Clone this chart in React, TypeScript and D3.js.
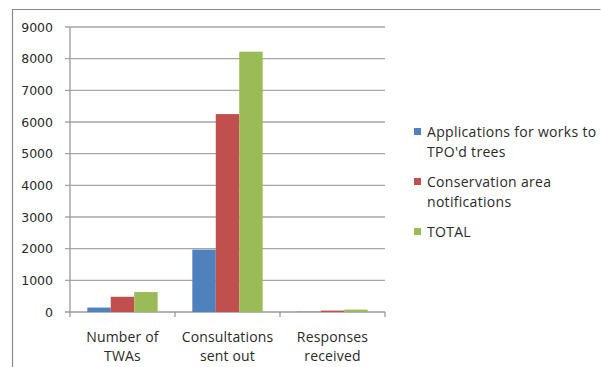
import React from "react";
import * as d3 from "d3";

const categories = [["Number of", "TWAs"], ["Consultations", "sent out"], ["Responses", "received"]];
const seriesNames = [["Applications for works to", "TPO'd trees"], ["Conservation area", "notifications"], ["TOTAL"]];
const seriesColors = ["#4F81BD", "#C0504D", "#9BBB59"];
const applications = [140, 1970, 8];
const conservation = [480, 6250, 45];
const total = [630, 8220, 75];
const yTicks = [0, 1000, 2000, 3000, 4000, 5000, 6000, 7000, 8000, 9000];

export default function App() {
  const series = [applications, conservation, total];
  const left = 70, right = 385, top = 27, bottom = 312;
  const x = d3.scaleBand<number>().domain([0, 1, 2]).range([left, right]).paddingInner(0.33).paddingOuter(0.165);
  const xs = d3.scaleBand<number>().domain([0, 1, 2]).range([0, x.bandwidth()]);
  const y = d3.scaleLinear().domain([0, 9000]).range([bottom, top]);
  const step = (right - left) / 3;
  const font = "'Open Sans', 'Liberation Sans', sans-serif";
  const txt = "#2a2a2a";
  return (
    <svg width={601} height={367} style={{ position: "absolute", left: 0, top: 0 }}>
      <rect x={0} y={0} width={601} height={367} fill="#fff" />
      <path d="M12.5,380 V9.5 H600.5" fill="none" stroke="#8a8a8a" strokeWidth={1.2} />
      {yTicks.map((t) => (
        <g key={t}>
          <line x1={left - 5} x2={right} y1={y(t)} y2={y(t)} stroke={t === 0 ? "#9a9a9a" : "#a6a6a6"} strokeWidth={1.3} />
          <text x={53} y={y(t)} dy="0.36em" textAnchor="end" fontSize={12.5} fontFamily="'DejaVu Sans', sans-serif" fill={txt}>{t}</text>
        </g>
      ))}
      <line x1={left} x2={left} y1={top} y2={bottom + 5} stroke="#9a9a9a" strokeWidth={1.3} />
      {[1, 2, 3].map((i) => (
        <line key={i} x1={left + step * i} x2={left + step * i} y1={bottom} y2={bottom + 5} stroke="#9a9a9a" strokeWidth={1.3} />
      ))}
      {series.map((vals, s) =>
        vals.map((v, c) => (
          <rect key={`${s}-${c}`} x={(x(c) as number) + (xs(s) as number)} width={xs.bandwidth()} y={y(v)} height={bottom - y(v)} fill={seriesColors[s]} />
        ))
      )}
      {categories.map((lines, c) => (
        <text key={c} x={left + step * (c + 0.5)} y={337} textAnchor="middle" fontSize={14} letterSpacing={0.15} fontFamily={font} fill={txt}>
          {lines.map((l, i) => (
            <tspan key={i} x={left + step * (c + 0.5)} dy={i === 0 ? "0.35em" : 19}>{l}</tspan>
          ))}
        </text>
      ))}
      {seriesNames.map((lines, s) => {
        const ys = [132, 182, 232][s];
        return (
          <g key={s}>
            <rect x={414} y={ys - 4} width={7} height={7} fill={seriesColors[s]} />
            <text x={427} y={ys} fontSize={14} letterSpacing={0.3} fontFamily={font} fill={txt}>
              {lines.map((l, i) => (
                <tspan key={i} x={427} dy={i === 0 ? "0.35em" : 20}>{l}</tspan>
              ))}
            </text>
          </g>
        );
      })}
    </svg>
  );
}
